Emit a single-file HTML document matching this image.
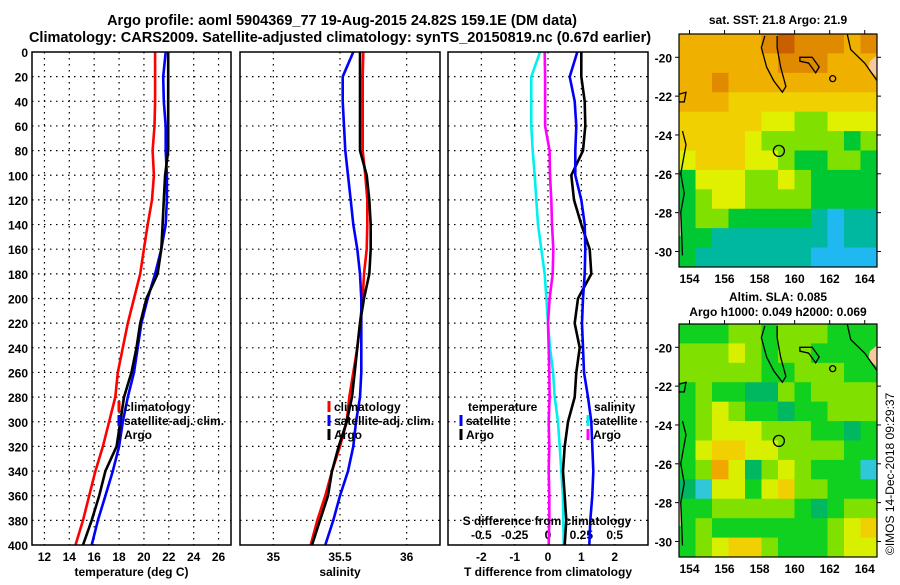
<!DOCTYPE html>
<html><head><meta charset="utf-8"><style>
body{margin:0;background:#fff}
svg text{font-family:"Liberation Sans",sans-serif;font-weight:bold;fill:#000}
</style></head><body>
<svg id="c" width="900" height="580" viewBox="0 0 900 580" xmlns="http://www.w3.org/2000/svg">
<text x="342" y="25" font-size="14.5" text-anchor="middle">Argo profile: aoml 5904369_77 19-Aug-2015 24.82S 159.1E (DM data)</text>
<text x="340" y="42" font-size="14.5" text-anchor="middle">Climatology: CARS2009. Satellite-adjusted climatology: synTS_20150819.nc (0.67d earlier)</text>
<text x="778" y="24" font-size="12" text-anchor="middle">sat. SST: 21.8 Argo: 21.9</text>
<text x="778" y="301" font-size="12" text-anchor="middle">Altim. SLA: 0.085</text>
<text x="778" y="316" font-size="12" text-anchor="middle">Argo h1000: 0.049 h2000: 0.069</text>
<text transform="translate(894,555) rotate(-90)" font-size="12" style="font-weight:normal">©IMOS 14-Dec-2018 09:29:37</text>
<g id="g"></g>
</svg>
<script>
const depths=[0,20,40,60,80,100,120,140,160,180,200,220,240,260,280,300,320,340,360,380,400];
const tClim=[20.9,20.9,20.9,20.85,20.7,20.8,20.65,20.3,20.0,19.7,19.2,18.7,18.3,17.9,17.7,17.2,16.7,16.1,15.6,15.1,14.5];
const tSat=[21.75,21.55,21.6,21.75,21.75,21.85,21.85,21.75,21.4,20.9,20.3,19.8,19.5,19.2,18.7,18.3,18.0,17.5,16.9,16.3,15.8];
const tArgo=[21.95,21.95,21.95,21.95,21.95,21.7,21.6,21.5,21.4,21.1,20.2,19.7,19.4,19.0,18.4,18.1,17.8,16.9,16.4,15.8,15.1];
const sClim=[35.675,35.67,35.67,35.67,35.67,35.69,35.705,35.705,35.7,35.68,35.67,35.65,35.63,35.6,35.57,35.55,35.5,35.44,35.39,35.33,35.28];
const sSat=[35.6,35.52,35.52,35.53,35.54,35.56,35.58,35.6,35.63,35.65,35.66,35.66,35.66,35.66,35.65,35.62,35.6,35.56,35.5,35.45,35.39];
const sArgo=[35.65,35.65,35.65,35.65,35.65,35.7,35.72,35.73,35.73,35.72,35.68,35.65,35.63,35.61,35.59,35.55,35.49,35.44,35.41,35.35,35.29];
const dtArgo=[1.0,1.0,1.1,1.12,1.05,0.7,0.78,1.0,1.25,1.3,0.9,0.8,0.95,0.85,0.8,0.6,0.5,0.45,0.5,0.55,0.5];
const dtSat=[0.88,0.65,0.8,0.85,0.82,0.82,1.0,1.1,1.12,1.1,1.05,1.02,1.05,1.08,1.2,1.3,1.33,1.36,1.33,1.27,1.24];
const dsArgo=[-0.025,-0.022,-0.022,-0.022,0.012,0.015,0.025,0.03,0.04,0.035,0.012,0.0,0.005,0.01,0.012,0.005,0.01,0.005,0.01,0.01,0.005];
const dsSat=[-0.06,-0.125,-0.125,-0.125,-0.115,-0.1,-0.088,-0.075,-0.05,-0.025,-0.012,0.0,0.015,0.038,0.05,0.075,0.088,0.1,0.112,0.115,0.118];
const depthTicks=[0,20,40,60,80,100,120,140,160,180,200,220,240,260,280,300,320,340,360,380,400];
const tTicks=[12,14,16,18,20,22,24,26];
const sTicks=[35,35.5,36];
const sTickLabels=["35","35.5","36"];
const dtTicks=[-2,-1,0,1,2];
const dsTicks=[-0.5,-0.25,0,0.25,0.5];
const dsTickLabels=["-0.5","-0.25","0","0.25","0.5"];
const latTicks=[-20,-22,-24,-26,-28,-30];
const lonTicks=[154,156,158,160,162,164];
const sstGrid=[
[7,7,7,7,7,8,9,8,8,8,7,8],
[7,7,7,7,7,7,8,8,8,7,7,7],
[7,7,8,7,7,7,7,7,7,7,7,7],
[7,7,7,6,6,6,6,6,6,6,6,6],
[6,6,6,6,6,5,5,4,4,5,5,5],
[6,6,6,6,5,4,4,4,4,4,3,4],
[5,6,6,6,5,5,4,3,3,4,4,3],
[3,5,5,5,4,4,5,4,3,3,3,3],
[3,4,5,5,4,4,4,4,3,3,3,3],
[3,4,4,3,3,3,3,3,2,1,2,2],
[3,3,2,2,2,2,2,2,2,1,2,2],
[3,2,2,2,2,2,2,2,1,1,1,1]];
const slaGrid=[
[2,2,2,3,3,2,3,3,3,2,2,2],
[3,3,3,4,3,2,3,3,2,2,2,2],
[3,3,3,3,3,2,2,3,3,3,2,2],
[2,3,2,2,1,1,3,2,3,3,3,3],
[2,3,4,3,2,2,1,2,2,3,3,3],
[2,3,4,4,4,3,3,3,2,2,1,2],
[2,4,5,5,4,4,3,3,3,3,2,2],
[2,3,6,4,1,3,4,3,2,2,2,0],
[1,0,4,4,2,4,5,3,3,2,2,2],
[2,2,3,3,3,3,3,2,1,2,3,3],
[2,3,2,2,2,2,2,2,2,3,4,5],
[2,3,4,5,5,3,2,2,2,3,4,4]];
const sstColors=["#1060ff","#20b8f0","#00b8a0","#00c832","#80e000","#e0f000","#f0d000","#f0b000","#e08a00","#c86000"];
const slaColors=["#30c8d8","#00b860","#10d020","#80e000","#d8f000","#f0d000","#f0a800"];

const NS="http://www.w3.org/2000/svg";
const G=document.getElementById('g');
function mk(t,a,p){const e=document.createElementNS(NS,t);for(const k in a)e.setAttribute(k,a[k]);(p||G).appendChild(e);return e;}
const Y0=52,Y1=545;
const yD=d=>Y0+(d/400)*(Y1-Y0);
const xT=v=>32+(v-11)/16*199;
const xS=v=>240+(v-34.75)/1.5*200;
const xDT=v=>448+(v+3)/6*200;
const xDS=v=>448+(v+0.75)/1.5*200;
const panels=[[32,231],[240,440],[448,648]];

panels.forEach((p,i)=>{
  depthTicks.forEach(d=>{if(d>0&&d<400){const l=mk('line',{x1:p[0],x2:p[1],y1:yD(d),y2:yD(d),stroke:'#000','stroke-width':1.2,'stroke-dasharray':'1.5,4.5'});
  
  }});
});
tTicks.forEach(v=>{const l=mk('line',{x1:xT(v),x2:xT(v),y1:Y0,y2:Y1,stroke:'#000','stroke-width':1.2,'stroke-dasharray':'1.5,4.5'});


const t=mk('text',{x:xT(v),y:561,'font-size':12,'text-anchor':'middle'});t.textContent=v;

});
sTicks.forEach((v,i)=>{const l=mk('line',{x1:xS(v),x2:xS(v),y1:Y0,y2:Y1,stroke:'#000','stroke-width':1.2,'stroke-dasharray':'1.5,4.5'});


const t=mk('text',{x:xS(v),y:561,'font-size':12,'text-anchor':'middle'});t.textContent=sTickLabels[i];

});
dtTicks.forEach(v=>{const l=mk('line',{x1:xDT(v),x2:xDT(v),y1:Y0,y2:Y1,stroke:'#000','stroke-width':1.2,'stroke-dasharray':'1.5,4.5'});


const t=mk('text',{x:xDT(v),y:561,'font-size':12,'text-anchor':'middle'});t.textContent=v;

});
dsTicks.forEach((v,i)=>{const t=mk('text',{x:xDS(v),y:539,'font-size':12,'text-anchor':'middle'});t.textContent=dsTickLabels[i];

});
depthTicks.forEach(d=>{const t=mk('text',{x:28,y:yD(d)+5,'font-size':12,'text-anchor':'end'});t.textContent=d;

});

function line(xs,xf,col,name){
  const pts=depths.map((d,i)=>xf(xs[i]).toFixed(1)+','+yD(d).toFixed(1)).join(' ');
  const l=mk('polyline',{points:pts,fill:'none',stroke:col,'stroke-width':2.6});
  
  
}
line(tClim,xT,'#f00','temp-climatology-line');
line(tSat,xT,'#00f','temp-satellite-line');
line(tArgo,xT,'#000','temp-argo-line');
line(sClim,xS,'#f00','sal-climatology-line');
line(sSat,xS,'#00f','sal-satellite-line');
line(sArgo,xS,'#000','sal-argo-line');
line(dsSat,xDS,'#00f0f0','sdiff-satellite-line');
line(dsArgo,xDS,'#f0f','sdiff-argo-line');
line(dtArgo,xDT,'#000','tdiff-argo-line');
line(dtSat,xDT,'#00f','tdiff-satellite-line');

panels.forEach(p=>{const r=mk('rect',{x:p[0],y:Y0,width:p[1]-p[0],height:Y1-Y0,fill:'none',stroke:'#000','stroke-width':1.5});

});

function legend(x,y,items,name){items.forEach((it,i)=>{
  if(it[0]){const m=mk('line',{x1:x,x2:x,y1:y+i*14-10,y2:y+i*14+1,stroke:it[0],'stroke-width':3});
  
  }
  const t=mk('text',{x:x+(it[0]?5:0),y:y+i*14,'font-size':12});t.textContent=it[1];
  
  });}
legend(119,411,[['#f00','climatology'],['#00f','satellite-adj. clim.'],['#000','Argo']],'temp-legend');
legend(329,411,[['#f00','climatology'],['#00f','satellite-adj. clim.'],['#000','Argo']],'sal-legend');
legend(468,411,[[null,'temperature']],'tdiff-legend');
legend(461,425,[['#00f','satellite'],['#000','Argo']],'tdiff-legend');
legend(594,411,[[null,'salinity']],'sdiff-legend');
legend(588,425,[['#00f0f0','satellite'],['#f0f','Argo']],'sdiff-legend');
const st=mk('text',{x:547,y:525,'font-size':12,'text-anchor':'middle'});st.textContent='S difference from climatology';


[[xT(19),'temperature (deg C)','temp-axis-title'],[xS(35.5),'salinity','sal-axis-title'],[548,'T difference from climatology','tdiff-axis-title']].forEach(a=>{
 const t=mk('text',{x:a[0],y:576,'font-size':12,'text-anchor':'middle'});t.textContent=a[1];
 
 });

function map(top,grid,cols,name){
  const L=679,R=877,H=233,B=top+H;
  const lonX=lo=>L+(lo-153.4)/11.3*(R-L);
  const latY=la=>top+(-18.8-la)/12*H;
  const cw=(R-L)/12,ch=H/12;
  grid.forEach((row,r)=>row.forEach((v,c)=>{
    const e=mk('rect',{x:L+c*cw,y:top+r*ch,width:cw+0.5,height:ch+0.5,fill:cols[v]});
    
    
  }));
  const land=mk('path',{d:`M${lonX(164.3)},${latY(-20.2)} L${R},${latY(-19.9)} L${R},${latY(-21)} L${lonX(164.2)},${latY(-20.6)} Z M${L},${latY(-27.9)} L${lonX(153.5)},${latY(-28)} L${lonX(153.5)},${latY(-29.2)} L${L},${latY(-29.2)} Z`,fill:'#f8c8a0'});
  
  
  const cst=mk('path',{d:`M${lonX(158.3)},${latY(-18.9)} L${lonX(158.1)},${latY(-19.5)} L${lonX(158.4)},${latY(-20.5)} L${lonX(158.8)},${latY(-21.2)} L${lonX(159.3)},${latY(-21.8)} L${lonX(159.5)},${latY(-21.5)} L${lonX(159.2)},${latY(-20.5)} L${lonX(159)},${latY(-19.5)} L${lonX(159)},${latY(-18.9)}
  M${lonX(160.3)},${latY(-20)} L${lonX(161)},${latY(-20)} L${lonX(161.4)},${latY(-20.5)} L${lonX(161.2)},${latY(-20.8)} L${lonX(160.8)},${latY(-20.3)} L${lonX(160.3)},${latY(-20.2)} Z
  M${lonX(153.6)},${latY(-23.8)} L${lonX(153.8)},${latY(-24.5)} L${lonX(153.5)},${latY(-26)} L${lonX(153.7)},${latY(-27)} L${lonX(153.5)},${latY(-28)} L${lonX(153.6)},${latY(-30.2)}
  M${L},${latY(-21.9)} L${lonX(153.8)},${latY(-21.8)} L${lonX(153.7)},${latY(-22.3)} L${L},${latY(-22.3)}
  M${lonX(163.0)},${latY(-18.8)} L${lonX(163.2)},${latY(-19.6)} L${lonX(164)},${latY(-20.3)} L${R},${latY(-21.2)}
  M${lonX(162.0)},${latY(-21.1)} a3,3 0 1,0 6,0 a3,3 0 1,0 -6,0`,fill:'none',stroke:'#000','stroke-width':1.3});
  
  
  const pos=mk('circle',{cx:lonX(159.1),cy:latY(-24.82),r:5.5,fill:'none',stroke:'#000','stroke-width':1.3});
  
  
  const fr=mk('rect',{x:L,y:top,width:R-L,height:H,fill:'none',stroke:'#000','stroke-width':1.2});
  
  
  latTicks.forEach(la=>{const t=mk('text',{x:672,y:latY(la)+5,'font-size':12,'text-anchor':'end'});t.textContent=la;
    
    
    mk('line',{x1:R,x2:R+4,y1:latY(la),y2:latY(la),stroke:'#000'});
    mk('line',{x1:L-4,x2:L,y1:latY(la),y2:latY(la),stroke:'#000'});});
  lonTicks.forEach(lo=>{const t=mk('text',{x:lonX(lo),y:B+16,'font-size':12,'text-anchor':'middle'});t.textContent=lo;
    
    
    mk('line',{x1:lonX(lo),x2:lonX(lo),y1:top-4,y2:top,stroke:'#000'});});
}
map(34,sstGrid,sstColors,'sst-map');
map(324,slaGrid,slaColors,'sla-map');
</script>
</body></html>
